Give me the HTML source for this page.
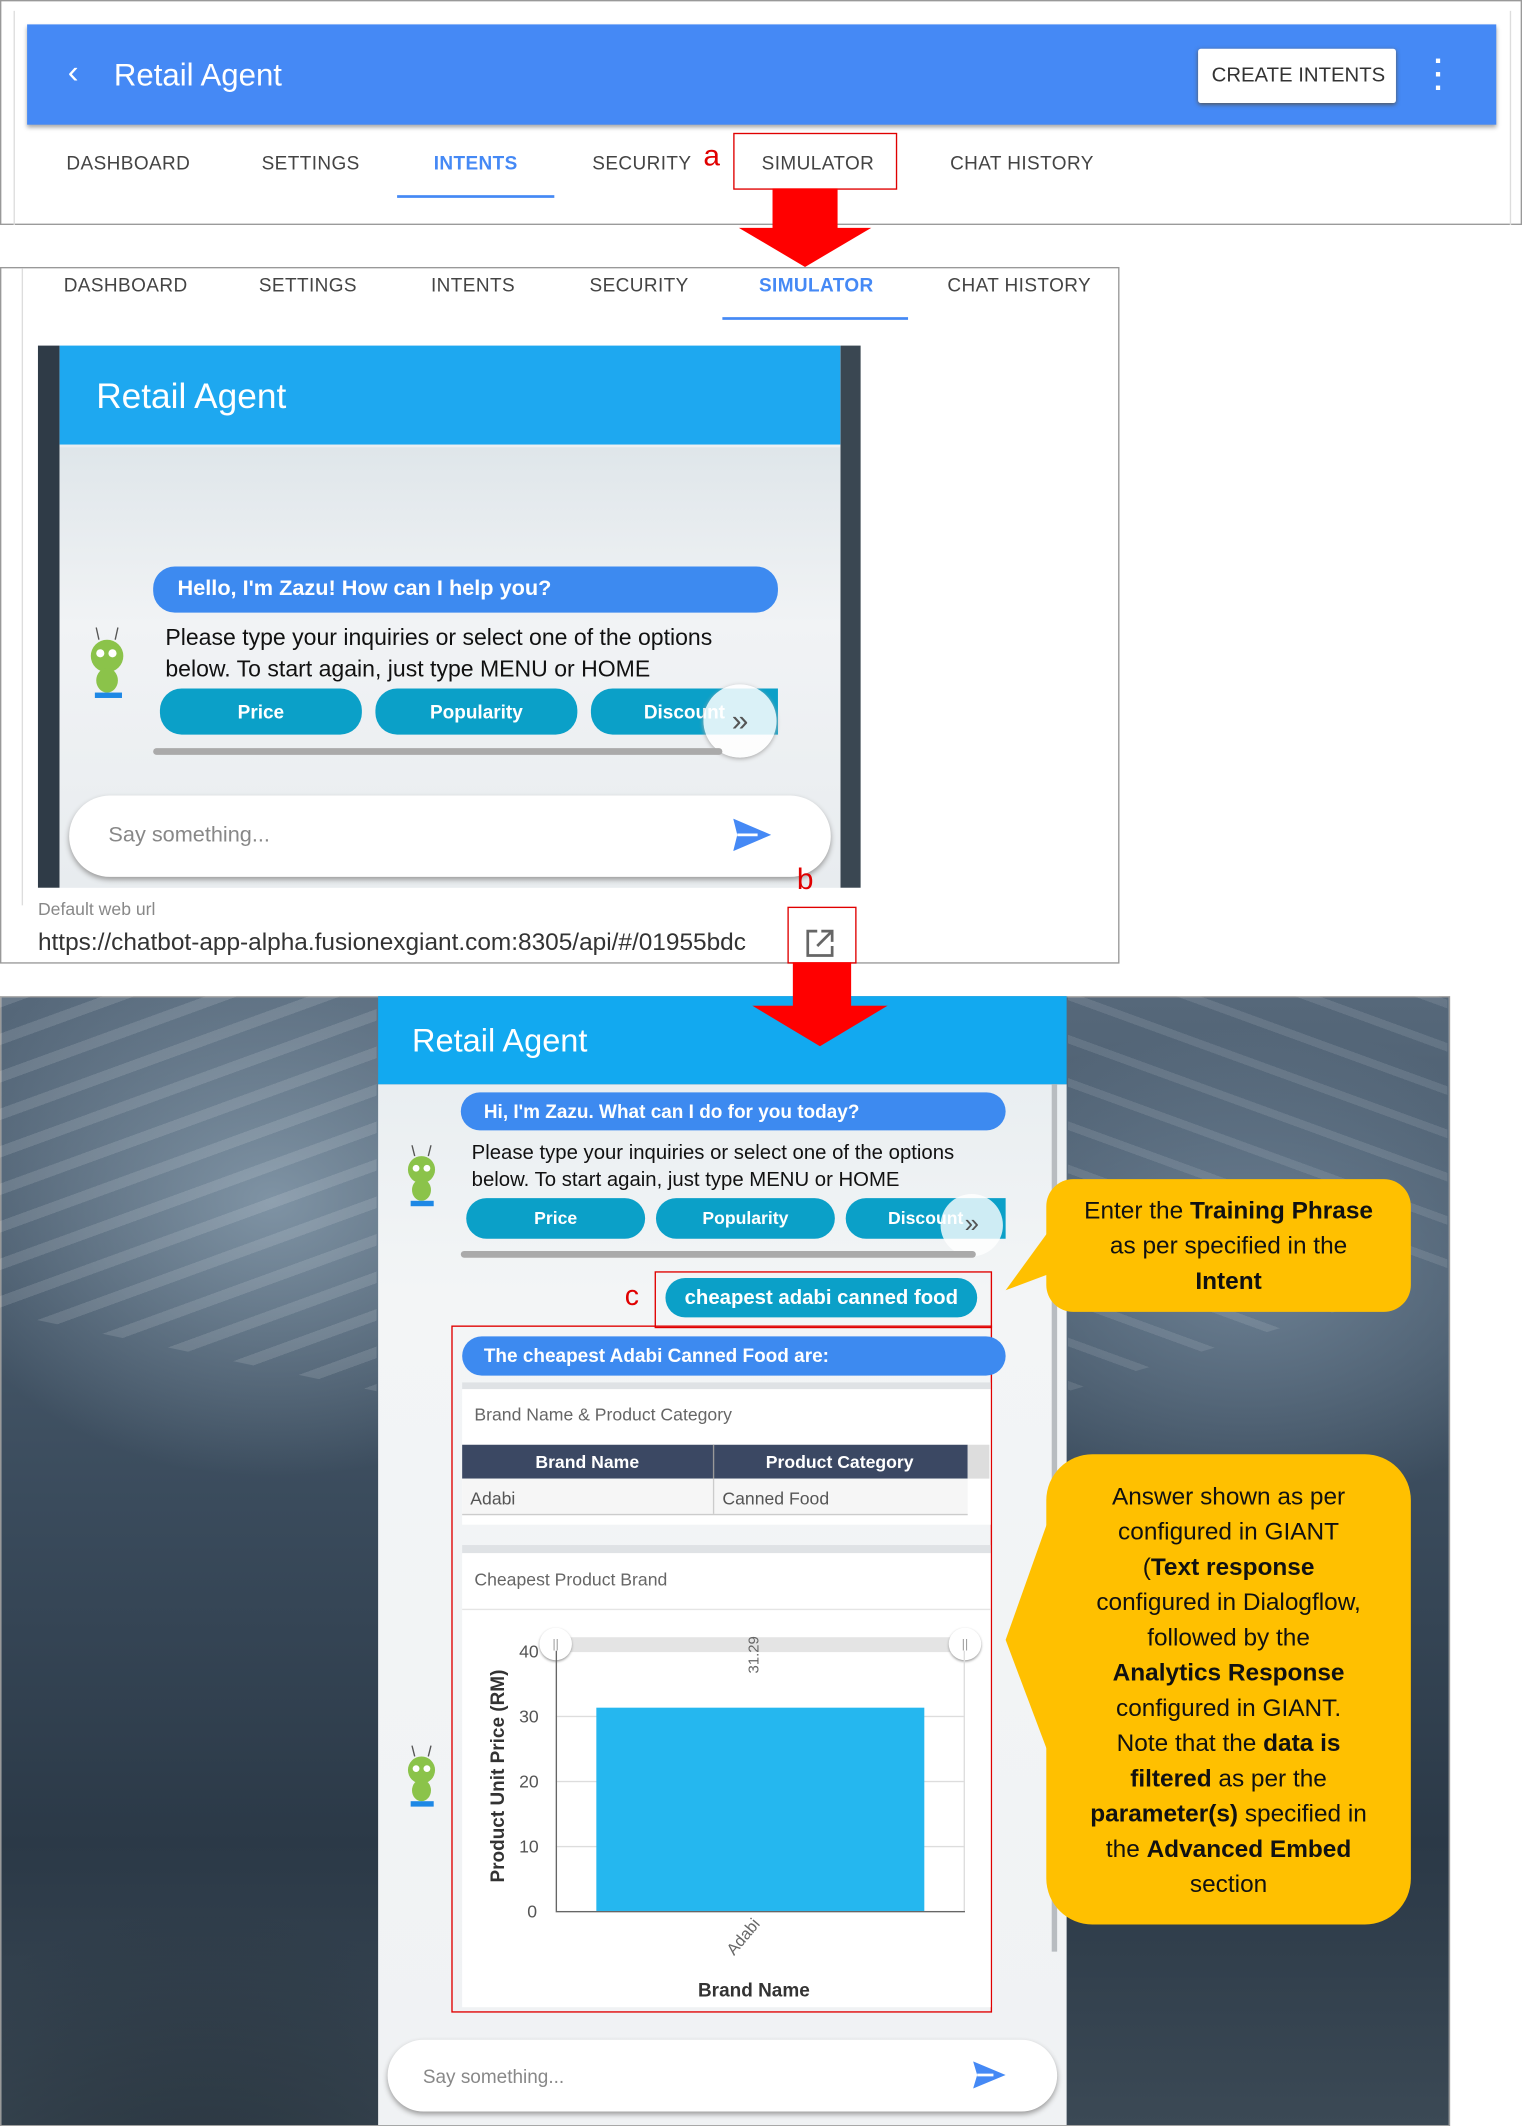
<!DOCTYPE html>
<html><head><meta charset="utf-8"><style>
html,body{margin:0;padding:0;background:#fff;width:1522px;height:2125px;overflow:hidden}
#w{position:absolute;left:0;top:0;width:1123px;height:1568px;transform:scale(1.35530);transform-origin:0 0;font-family:"Liberation Sans",sans-serif}
.a{position:absolute}
.t{position:absolute;white-space:nowrap}
.tab{position:absolute;font-size:14px;color:#444;letter-spacing:.3px}
.btn{position:absolute;background:#0ba0c8;color:#fff;font-weight:bold;border-radius:16px;text-align:center;font-size:14px}
.bub{position:absolute;background:#3d8af0;color:#fff;font-weight:bold;border-radius:16px}
.red{position:absolute;border:1.5px solid #e00000}
.rob{position:absolute}
.cb{position:absolute;background:#ffc000;border-radius:20px;text-align:center;font-family:"Liberation Sans",sans-serif;font-size:18px;color:#111;line-height:26px}
</style></head><body><div id="w">

<!-- panel 1 -->
<div class="a" style="left:0;top:0;width:1121px;height:164px;border:1px solid #999"></div>
<div class="a" style="left:10px;top:8px;width:1103px;height:158px;border-left:1px solid #ddd;border-right:1px solid #ddd"></div>
<div class="a" style="left:20px;top:18px;width:1084px;height:74px;background:#4589f5;box-shadow:0 2px 3px #aaa"></div>
<div class="t" style="left:50px;top:40px;color:#fff;font-size:24px">‹</div>
<div class="t" style="left:84px;top:42px;color:#fff;font-size:23px">Retail Agent</div>
<div class="a" style="left:884px;top:36px;width:146px;height:40px;background:#fff;border-radius:2px;box-shadow:0 1px 3px #555"></div>
<div class="t" style="left:894px;top:47px;font-size:15px;color:#333">CREATE INTENTS</div>
<div class="t" style="left:1058px;top:40px;color:#fff;font-size:22px;font-weight:bold;line-height:10px">·<br>·<br>·</div>
<div class="tab" style="left:49px;top:112px">DASHBOARD</div>
<div class="tab" style="left:193px;top:112px">SETTINGS</div>
<div class="tab" style="left:320px;top:112px;color:#4589f5;font-weight:bold">INTENTS</div>
<div class="a" style="left:293px;top:144px;width:116px;height:2px;background:#4589f5"></div>
<div class="tab" style="left:437px;top:112px">SECURITY</div>
<div class="t" style="left:519px;top:102px;color:#e00000;font-size:22px">a</div>
<div class="red" style="left:541px;top:98px;width:119px;height:40px"></div>
<div class="tab" style="left:562px;top:112px">SIMULATOR</div>
<div class="tab" style="left:701px;top:112px">CHAT HISTORY</div>

<!-- arrow 1 -->
<div class="a" style="left:570px;top:139px;width:48px;height:30px;background:#f00"></div>
<svg class="a" style="left:545px;top:168px" width="98" height="30"><polygon points="0,0 98,0 49,29" fill="#f00"/></svg>

<!-- panel 2 -->
<div class="a" style="left:0;top:197px;width:824px;height:512px;border:1px solid #999"></div>
<div class="a" style="left:16px;top:198px;width:1px;height:470px;background:#ddd"></div>
<div class="tab" style="left:47px;top:202px">DASHBOARD</div>
<div class="tab" style="left:191px;top:202px">SETTINGS</div>
<div class="tab" style="left:318px;top:202px">INTENTS</div>
<div class="tab" style="left:435px;top:202px">SECURITY</div>
<div class="tab" style="left:560px;top:202px;color:#4589f5;font-weight:bold">SIMULATOR</div>
<div class="a" style="left:533px;top:234px;width:137px;height:2px;background:#4589f5"></div>
<div class="tab" style="left:699px;top:202px">CHAT HISTORY</div>
<div class="a" style="left:28px;top:255px;width:607px;height:400px;background:linear-gradient(90deg,#2f3b47 0,#2f3b47 16px,#e9edf0 16px,#eef1f3 592px,#3a4752 592px)"></div>
<div class="a" style="left:44px;top:330px;width:576px;height:325px;background:linear-gradient(180deg,#dfe6ea,#f1f3f5 40%,#e8ecef)"></div>
<div class="a" style="left:44px;top:255px;width:576px;height:73px;background:#1ea8f0"></div>
<div class="t" style="left:71px;top:277px;color:#fff;font-size:26px">Retail Agent</div>
<div class="bub" style="left:113px;top:418px;width:461px;height:34px"><span class="t" style="left:18px;top:8px;font-size:16px">Hello, I'm Zazu! How can I help you?</span></div>
<div class="t" style="left:122px;top:459px;font-size:17px;line-height:23px;color:#111">Please type your inquiries or select one of the options<br>below. To start again, just type MENU or HOME</div>
<svg class="rob" style="left:60px;top:460px" width="38" height="58"><circle cx="19" cy="24" r="12" fill="#8bc34a"/><circle cx="14" cy="22" r="3" fill="#fff"/><circle cx="23" cy="22" r="3" fill="#fff"/><ellipse cx="19" cy="42" rx="8" ry="9" fill="#8bc34a"/><line x1="13" y1="12" x2="11" y2="3" stroke="#555"/><line x1="25" y1="12" x2="27" y2="3" stroke="#555"/><rect x="10" y="51" width="20" height="4" fill="#1e88e5"/></svg>
<div class="btn" style="left:118px;top:508px;width:149px;height:34px;line-height:34px">Price</div>
<div class="btn" style="left:277px;top:508px;width:149px;height:34px;line-height:34px">Popularity</div>
<div class="btn" style="left:436px;top:508px;width:138px;height:34px;line-height:34px;border-radius:16px 0 0 16px">Discount</div>
<div class="a" style="left:519px;top:505px;width:54px;height:54px;border-radius:50%;background:rgba(255,255,255,.85);box-shadow:0 1px 3px #aaa;color:#555;font-size:22px;text-align:center;line-height:54px">»</div>
<div class="a" style="left:113px;top:552px;width:420px;height:5px;background:#aaa;border-radius:3px"></div>
<div class="a" style="left:51px;top:587px;width:562px;height:60px;background:#fff;border-radius:30px;box-shadow:0 2px 4px #999"></div>
<div class="t" style="left:80px;top:608px;font-size:16px;color:#888">Say something...</div>
<svg class="a" style="left:541px;top:604px" width="28" height="24"><polygon points="0,0 28,12 0,24 3,12" fill="#4589f5"/><line x1="3" y1="12" x2="18" y2="12" stroke="#fff" stroke-width="2"/></svg>
<div class="t" style="left:28px;top:663px;font-size:13px;color:#888">Default web url</div>
<div class="t" style="left:28px;top:685px;font-size:18px;color:#333;width:548px;overflow:hidden">https://chatbot-app-alpha.fusionexgiant.com:8305/api/#/01955bdc</div>
<div class="t" style="left:588px;top:636px;color:#e00000;font-size:22px">b</div>
<div class="red" style="left:581px;top:669px;width:49px;height:40px"></div>
<svg class="a" style="left:594px;top:685px" width="22" height="22"><path d="M9 2H2V20H20V13" fill="none" stroke="#666" stroke-width="2"/><path d="M12 2H20V10M20 2L9 13" fill="none" stroke="#666" stroke-width="2"/></svg>

<!-- panel 3 -->
<div class="a" style="left:0;top:735px;width:1068px;height:832px;border:1px solid #999;background:
radial-gradient(ellipse at 150px 1000px,#1f2a33,transparent 300px),
radial-gradient(ellipse at 200px 150px,#7f93a4,transparent 260px),
radial-gradient(ellipse at 920px 200px,#6d8194,transparent 260px),
linear-gradient(180deg,#56687a,#3a4b5c 45%,#2b3947 75%,#3b4955);overflow:hidden"></div>
<div class="a" style="left:0;top:735px;width:278px;height:833px;background:repeating-linear-gradient(160deg,rgba(255,255,255,.12) 0 8px,transparent 8px 26px);clip-path:polygon(0 0,100% 0,100% 35%,0 28%)"></div>
<div class="a" style="left:788px;top:735px;width:280px;height:833px;background:repeating-linear-gradient(20deg,rgba(255,255,255,.1) 0 6px,transparent 6px 30px);clip-path:polygon(0 0,100% 0,100% 25%,0 35%)"></div>
<div class="a" style="left:279px;top:800px;width:508px;height:768px;background:linear-gradient(180deg,#e9eef1,#f3f5f6 20%,#f0f2f4)"></div>
<div class="a" style="left:279px;top:735px;width:508px;height:65px;background:#12a9f0"></div>
<div class="t" style="left:304px;top:755px;color:#fff;font-size:24px">Retail Agent</div>
<div class="a" style="left:776px;top:800px;width:4px;height:640px;background:#b8bcc0"></div>
<!-- arrow 2 -->
<div class="a" style="left:585px;top:710px;width:43px;height:33px;background:#f00"></div>
<svg class="a" style="left:555px;top:742px" width="100" height="30"><polygon points="0,0 100,0 50,30" fill="#f00"/></svg>

<div class="bub" style="left:340px;top:806px;width:402px;height:28px"><span class="t" style="left:17px;top:6px;font-size:14px">Hi, I'm Zazu. What can I do for you today?</span></div>
<div class="t" style="left:348px;top:841px;font-size:15px;line-height:20px;color:#111">Please type your inquiries or select one of the options<br>below. To start again, just type MENU or HOME</div>
<svg class="rob" style="left:294px;top:842px" width="34" height="50"><circle cx="17" cy="21" r="10" fill="#8bc34a"/><circle cx="13" cy="20" r="2.5" fill="#fff"/><circle cx="21" cy="20" r="2.5" fill="#fff"/><ellipse cx="17" cy="36" rx="7" ry="8" fill="#8bc34a"/><line x1="12" y1="11" x2="10" y2="3" stroke="#555"/><line x1="22" y1="11" x2="24" y2="3" stroke="#555"/><rect x="9" y="44" width="17" height="4" fill="#1e88e5"/></svg>
<div class="btn" style="left:344px;top:884px;width:132px;height:30px;line-height:30px;font-size:13px">Price</div>
<div class="btn" style="left:484px;top:884px;width:132px;height:30px;line-height:30px;font-size:13px">Popularity</div>
<div class="btn" style="left:624px;top:884px;width:118px;height:30px;line-height:30px;font-size:13px;border-radius:15px 0 0 15px">Discount</div>
<div class="a" style="left:694px;top:881px;width:46px;height:46px;border-radius:50%;background:rgba(255,255,255,.8);color:#555;font-size:19px;text-align:center;line-height:46px">»</div>
<div class="a" style="left:340px;top:923px;width:380px;height:5px;background:#aaa;border-radius:3px"></div>
<div class="t" style="left:461px;top:945px;color:#e00000;font-size:21px">c</div>
<div class="red" style="left:483px;top:938px;width:247px;height:40px"></div>
<div class="btn" style="left:491px;top:943px;width:230px;height:29px;line-height:29px;font-size:15px">cheapest adabi canned food</div>
<div class="red" style="left:333px;top:978px;width:397px;height:505px"></div>
<div class="bub" style="left:341px;top:986px;width:401px;height:29px"><span class="t" style="left:16px;top:6px;font-size:14px">The cheapest Adabi Canned Food are:</span></div>
<div class="a" style="left:341px;top:1020px;width:390px;height:5px;background:#dfe2e5"></div>
<div class="a" style="left:341px;top:1025px;width:390px;height:100px;background:#fff"></div>
<div class="t" style="left:350px;top:1036px;font-size:13px;color:#666">Brand Name &amp; Product Category</div>
<div class="a" style="left:341px;top:1066px;width:373px;height:25px;background:#3b4863"></div>
<div class="a" style="left:714px;top:1066px;width:16px;height:25px;background:#ddd"></div>
<div class="t" style="left:395px;top:1071px;font-size:13px;color:#fff;font-weight:bold">Brand Name</div>
<div class="t" style="left:565px;top:1071px;font-size:13px;color:#fff;font-weight:bold">Product Category</div>
<div class="a" style="left:526px;top:1066px;width:1px;height:51px;background:#999"></div>
<div class="a" style="left:341px;top:1091px;width:373px;height:26px;background:#f6f6f6;border-bottom:1px solid #ccc"></div>
<div class="a" style="left:526px;top:1091px;width:1px;height:26px;background:#ccc"></div>
<div class="t" style="left:347px;top:1098px;font-size:13px;color:#555">Adabi</div>
<div class="t" style="left:533px;top:1098px;font-size:13px;color:#555">Canned Food</div>
<div class="a" style="left:341px;top:1140px;width:390px;height:6px;background:#dfe2e5"></div>
<div class="a" style="left:341px;top:1146px;width:390px;height:335px;background:#fff"></div>
<div class="t" style="left:350px;top:1158px;font-size:13px;color:#666">Cheapest Product Brand</div>
<div class="a" style="left:341px;top:1187px;width:390px;height:1px;background:#e5e5e5"></div>
<!-- chart -->
<div class="a" style="left:411px;top:1208px;width:301px;height:11px;background:#e4e4e4"></div>
<div class="a" style="left:398px;top:1201px;width:24px;height:24px;border-radius:50%;background:#fff;box-shadow:0 1px 2px #999;font-size:9px;color:#999;text-align:center;line-height:24px">||</div>
<div class="a" style="left:700px;top:1201px;width:24px;height:24px;border-radius:50%;background:#fff;box-shadow:0 1px 2px #999;font-size:9px;color:#999;text-align:center;line-height:24px">||</div>
<div class="a" style="left:410px;top:1266px;width:302px;height:1px;background:#ddd"></div>
<div class="a" style="left:410px;top:1314px;width:302px;height:1px;background:#ddd"></div>
<div class="a" style="left:410px;top:1362px;width:302px;height:1px;background:#ddd"></div>
<div class="a" style="left:711px;top:1218px;width:1px;height:192px;background:#ddd"></div>
<div class="a" style="left:410px;top:1218px;width:1px;height:192px;background:#666"></div>
<div class="a" style="left:410px;top:1410px;width:302px;height:1px;background:#666"></div>
<div class="a" style="left:440px;top:1260px;width:242px;height:150px;background:#25b7ef"></div>
<div class="t" style="left:383px;top:1211px;font-size:13px;color:#555">40</div>
<div class="t" style="left:383px;top:1259px;font-size:13px;color:#555">30</div>
<div class="t" style="left:383px;top:1307px;font-size:13px;color:#555">20</div>
<div class="t" style="left:383px;top:1355px;font-size:13px;color:#555">10</div>
<div class="t" style="left:389px;top:1403px;font-size:13px;color:#555">0</div>
<div class="t" style="left:543px;top:1215px;font-size:11px;color:#666;transform:rotate(-90deg)">31.29</div>
<div class="t" style="left:292px;top:1306px;font-size:14px;color:#333;font-weight:bold;transform:rotate(-90deg);width:150px;text-align:center">Product Unit Price (RM)</div>
<div class="t" style="left:533px;top:1422px;font-size:12px;color:#666;transform:rotate(-50deg)">Adabi</div>
<div class="t" style="left:515px;top:1460px;font-size:14px;color:#333;font-weight:bold">Brand Name</div>
<svg class="rob" style="left:294px;top:1285px" width="34" height="50"><circle cx="17" cy="21" r="10" fill="#8bc34a"/><circle cx="13" cy="20" r="2.5" fill="#fff"/><circle cx="21" cy="20" r="2.5" fill="#fff"/><ellipse cx="17" cy="36" rx="7" ry="8" fill="#8bc34a"/><line x1="12" y1="11" x2="10" y2="3" stroke="#555"/><line x1="22" y1="11" x2="24" y2="3" stroke="#555"/><rect x="9" y="44" width="17" height="4" fill="#1e88e5"/></svg>
<div class="a" style="left:286px;top:1505px;width:494px;height:53px;background:#fff;border-radius:27px;box-shadow:0 2px 4px #999"></div>
<div class="t" style="left:312px;top:1524px;font-size:14px;color:#888">Say something...</div>
<svg class="a" style="left:718px;top:1521px" width="24" height="20"><polygon points="0,0 24,10 0,20 3,10" fill="#4589f5"/><line x1="3" y1="10" x2="15" y2="10" stroke="#fff" stroke-width="2"/></svg>

<!-- callouts -->
<svg class="a" style="left:740px;top:900px" width="40" height="60"><polygon points="34,8 2,52 34,40" fill="#ffc000"/></svg>
<div class="cb" style="left:772px;top:870px;width:269px;height:98px;padding-top:10px;box-sizing:border-box">Enter the <b>Training Phrase</b><br>as per specified in the<br><b>Intent</b></div>
<svg class="a" style="left:740px;top:1120px" width="40" height="180"><polygon points="34,0 2,90 34,175" fill="#ffc000"/></svg>
<div class="cb" style="left:772px;top:1073px;width:269px;height:347px;padding-top:18px;box-sizing:border-box;border-radius:34px">Answer shown as per<br>configured in GIANT<br>(<b>Text response</b><br>configured in Dialogflow,<br>followed by the<br><b>Analytics Response</b><br>configured in GIANT.<br>Note that the <b>data is</b><br><b>filtered</b> as per the<br><b>parameter(s)</b> specified in<br>the <b>Advanced Embed</b><br>section</div>
</div></body></html>
